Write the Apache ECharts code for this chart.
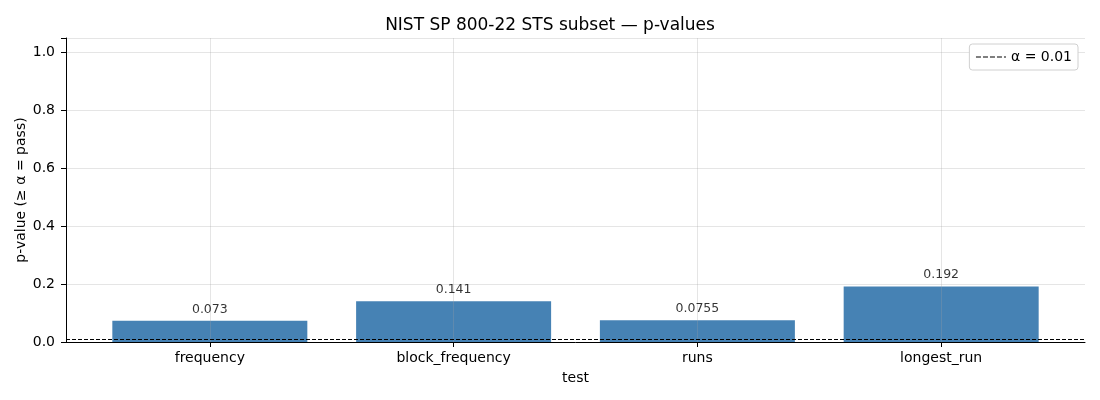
<!DOCTYPE html>
<html>
<head>
<meta charset="utf-8">
<script src="https://cdn.jsdelivr.net/npm/echarts@6/dist/echarts.min.js"></script>
<style>
  html, body { margin: 0; padding: 0; background: #fff; }
  #app { width: 1100px; height: 400px; }
</style>
</head>
<body>
<div id="app"></div>
<script>
var tests = ['frequency', 'block_frequency', 'runs', 'longest_run'];
var pValues = [0.073, 0.141, 0.0755, 0.192];
var pLabels = ['0.073', '0.141', '0.0755', '0.192'];
var alpha = 0.01;
var yTicks = [0, 0.2, 0.4, 0.6, 0.8, 1.0];
var xPositions = [0, 1, 2, 3];

var font = 'DejaVu Sans';
var chart = echarts.init(document.getElementById('app'), null, { renderer: 'canvas' });

// bars as [position, value] pairs on a numeric x axis (matplotlib-like margins)
var barData = pValues.map(function (v, i) { return [xPositions[i], v]; });
var alphaName = '\u03b1 = ' + alpha;

var option = {
    animation: false,
    textStyle: { fontFamily: font },
    title: {
        text: 'NIST SP 800-22 STS subset \u2014 p-values',
        left: 'center',
        top: 12,
        textStyle: { fontFamily: font, fontSize: 17, fontWeight: 'normal', color: '#000' }
    },
    legend: {
        right: 22,
        top: 44,
        orient: 'vertical',
        itemWidth: 30,
        itemHeight: 10,
        padding: [6, 6, 6, 6],
        borderColor: '#d0d0d0',
        borderWidth: 1,
        borderRadius: 3,
        backgroundColor: '#fff',
        textStyle: { fontFamily: font, fontSize: 14, color: '#000' },
        itemStyle: { opacity: 0 },
        lineStyle: { color: '#000', type: [5, 2], width: 1.2 },
        data: [alphaName]
    },
    grid: { left: 66, right: 15, top: 38, bottom: 58, containLabel: false },
    xAxis: {
        type: 'value',
        min: -0.59,
        max: 3.59,
        z: 3,
        name: 'test',
        nameLocation: 'middle',
        nameGap: 29,
        nameMoveOverlap: false,
        nameTextStyle: { fontFamily: font, fontSize: 14, color: '#000' },
        axisLine: { show: true, onZero: false, lineStyle: { color: '#000', width: 1 } },
        axisTick: { show: true, customValues: xPositions, length: 5, lineStyle: { color: '#000' } },
        axisLabel: {
            fontFamily: font, fontSize: 14, color: '#000', margin: 9,
            customValues: xPositions,
            formatter: function (v) { return tests[Math.round(v)] || ''; }
        },
        splitLine: { show: false }
    },
    yAxis: {
        type: 'value',
        min: 0,
        max: 1.05,
        interval: 0.2,
        z: 3,
        name: 'p-value (\u2265 \u03b1 = pass)',
        nameLocation: 'middle',
        nameGap: 38,
        nameMoveOverlap: false,
        nameTextStyle: { fontFamily: font, fontSize: 14, color: '#000' },
        axisLine: { show: true, onZero: false, lineStyle: { color: '#000', width: 1 } },
        axisTick: { show: true, length: 5, lineStyle: { color: '#000' } },
        axisLabel: {
            fontFamily: font, fontSize: 14, color: '#000', margin: 11,
            formatter: function (v) {
                return yTicks.some(function (t) { return Math.abs(t - v) < 1e-9; }) ? v.toFixed(1) : '';
            }
        },
        splitLine: { show: true, lineStyle: { color: 'rgba(160,160,160,0.28)', width: 1 } }
    },
    series: [
        {
            type: 'bar',
            name: 'p-value',
            z: 1,
            barWidth: 195,
            itemStyle: { color: '#4682b4' },
            data: barData
        },
        {
            // vertical grid lines at each test, drawn over the bars
            type: 'line',
            name: 'xgrid',
            data: [],
            z: 3,
            markLine: {
                silent: true,
                symbol: 'none',
                label: { show: false },
                lineStyle: { color: 'rgba(160,160,160,0.28)', type: 'solid', width: 1 },
                data: xPositions.map(function (x) { return { xAxis: x }; })
            }
        },
        {
            // value labels above the bars, on top of the grid
            type: 'scatter',
            name: 'labels',
            z: 5,
            symbolSize: 0,
            silent: true,
            data: barData,
            label: {
                show: true,
                position: 'top',
                distance: 5,
                fontFamily: font,
                fontSize: 12.5,
                color: '#000',
                formatter: function (p) { return pLabels[p.dataIndex]; }
            }
        },
        {
            type: 'line',
            name: alphaName,
            data: [],
            z: 4,
            symbol: 'none',
            lineStyle: { color: '#000', type: [5, 2], width: 1.2 },
            itemStyle: { color: '#000' },
            markLine: {
                silent: true,
                symbol: 'none',
                label: { show: false },
                lineStyle: { color: '#000', type: [4, 2], width: 1 },
                data: [{ yAxis: alpha }]
            }
        }
    ]
};

chart.setOption(option);
</script>
</body>
</html>
